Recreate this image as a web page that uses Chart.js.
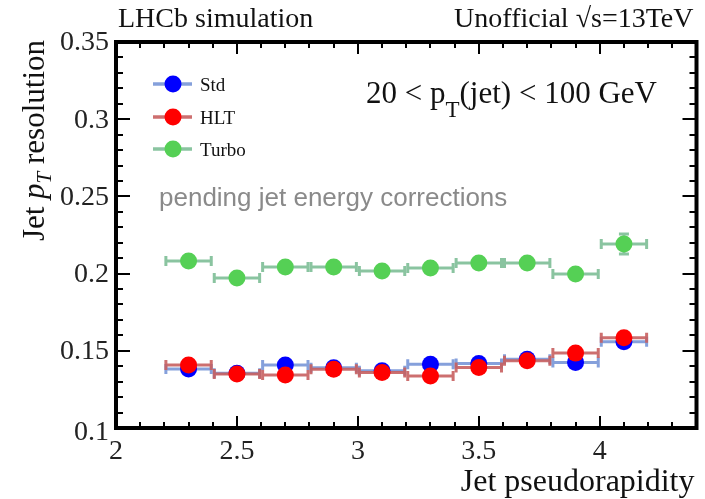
<!DOCTYPE html>
<html>
<head>
<meta charset="utf-8">
<script src="https://cdn.jsdelivr.net/npm/chart.js@4/dist/chart.umd.min.js"></script>
<style>
  html, body { margin: 0; padding: 0; background: #fff; }
  #wrap { width: 705px; height: 499px; }
</style>
</head>
<body>
<div id="wrap"><canvas id="resChart" width="705" height="499"></canvas></div>
<script>
// bin centres in jet pseudorapidity, each bin is 0.2 wide
const etaBins = [2.3, 2.5, 2.7, 2.9, 3.1, 3.3, 3.5, 3.7, 3.9, 4.1];
const etaHalfWidth = 0.1;

// pT resolution per bin
const stdRes   = [0.1382, 0.1355, 0.1408, 0.1390, 0.1370, 0.1413, 0.1418, 0.1445, 0.1425, 0.1558];
const hltRes   = [0.1408, 0.1350, 0.1343, 0.1380, 0.1360, 0.1337, 0.1392, 0.1435, 0.1485, 0.1585];
const turboRes = [0.2082, 0.1972, 0.2043, 0.2043, 0.2017, 0.2036, 0.2069, 0.2069, 0.1997, 0.2192];

// vertical (statistical) errors
const stdErr   = [0.002, 0.002, 0.002, 0.002, 0.002, 0.002, 0.002, 0.002, 0.002, 0.004];
const hltErr   = [0.002, 0.002, 0.002, 0.002, 0.002, 0.002, 0.002, 0.002, 0.002, 0.003];
const turboErr = [0.002, 0.002, 0.002, 0.002, 0.002, 0.002, 0.002, 0.002, 0.002, 0.0075];

const xTicks = [2, 2.5, 3, 3.5, 4];
const yTicks = [0.1, 0.15, 0.2, 0.25, 0.3, 0.35];
const xRange = [2, 4.4];
const yRange = [0.1, 0.35];

const seriesNames = ['Std', 'HLT', 'Turbo'];

const SERIF = '"Liberation Serif", "Times New Roman", serif';
const SANS = '"Liberation Sans", Arial, sans-serif';

function points(vals) {
  return etaBins.map((x, i) => ({ x: x, y: vals[i] }));
}

// draws a run of text pieces (for subscripts / italics) starting at x
function drawRich(ctx, parts, x, y) {
  ctx.textAlign = 'left';
  parts.forEach(p => {
    ctx.font = p.f;
    ctx.fillText(p.t, x, y + p.dy);
    x += ctx.measureText(p.t).width;
  });
}
function richWidth(ctx, parts) {
  let w = 0;
  parts.forEach(p => { ctx.font = p.f; w += ctx.measureText(p.t).width; });
  return w;
}

// horizontal bin-width bars and vertical errors, drawn under each dataset's markers
const errorBars = {
  id: 'errorBars',
  beforeDatasetDraw(chart, args) {
    const ds = chart.data.datasets[args.index];
    const xs = chart.scales.x, ys = chart.scales.y;
    const ctx = chart.ctx;
    ctx.save();
    ctx.strokeStyle = ds.barColor;
    ctx.lineWidth = 3;
    ctx.lineCap = 'butt';
    ds.data.forEach((p, i) => {
      const x0 = xs.getPixelForValue(p.x - etaHalfWidth);
      const x1 = xs.getPixelForValue(p.x + etaHalfWidth);
      const yc = ys.getPixelForValue(p.y);
      const xc = xs.getPixelForValue(p.x);
      ctx.beginPath();
      ctx.moveTo(x0, yc); ctx.lineTo(x1, yc);
      ctx.moveTo(x0 + 1.5, yc - 5); ctx.lineTo(x0 + 1.5, yc + 5);
      ctx.moveTo(x1 - 1.5, yc - 5); ctx.lineTo(x1 - 1.5, yc + 5);
      const e = ds.yErr[i];
      const yt = ys.getPixelForValue(p.y + e);
      const yb = ys.getPixelForValue(p.y - e);
      ctx.moveTo(xc, yt); ctx.lineTo(xc, yb);
      if (yc - yt > 9) {
        ctx.moveTo(xc - 5, yt + 1.5); ctx.lineTo(xc + 5, yt + 1.5);
        ctx.moveTo(xc - 5, yb - 1.5); ctx.lineTo(xc + 5, yb - 1.5);
      }
      ctx.stroke();
    });
    ctx.restore();
  }
};

// frame with inward ticks on all four sides, plus tick labels
const frameTicks = {
  id: 'frameTicks',
  afterDatasetsDraw(chart) {
    const ctx = chart.ctx;
    const a = chart.chartArea;
    const xs = chart.scales.x, ys = chart.scales.y;
    ctx.save();
    ctx.strokeStyle = '#000';
    ctx.lineWidth = 2;
    ctx.beginPath();
    for (let k = 0; k <= 24; k++) {
      const v = xRange[0] + k * 0.1;
      const px = Math.round(xs.getPixelForValue(v));
      const len = (k % 5 === 0) ? 12 : 6;
      ctx.moveTo(px, a.bottom); ctx.lineTo(px, a.bottom - len);
      ctx.moveTo(px, a.top); ctx.lineTo(px, a.top + len);
    }
    for (let k = 0; k <= 25; k++) {
      const v = yRange[0] + k * 0.01;
      const py = Math.round(ys.getPixelForValue(v));
      const len = (k % 5 === 0) ? 14 : 7;
      ctx.moveTo(a.left, py); ctx.lineTo(a.left + len, py);
      ctx.moveTo(a.right, py); ctx.lineTo(a.right - len, py);
    }
    ctx.stroke();
    ctx.lineWidth = 4;
    ctx.strokeRect(a.left, a.top, a.right - a.left, a.bottom - a.top);

    ctx.fillStyle = '#222';
    ctx.font = '28px ' + SERIF;
    ctx.textAlign = 'right';
    ctx.textBaseline = 'middle';
    yTicks.forEach(v => {
      // the lowest label sits a little below the corner
      const nudge = (v === yRange[0]) ? 5 : 1;
      ctx.fillText(String(v), a.left - 7, ys.getPixelForValue(v) + nudge);
    });
    ctx.textAlign = 'center';
    ctx.textBaseline = 'alphabetic';
    xTicks.forEach(v => {
      ctx.fillText(String(v), xs.getPixelForValue(v), a.bottom + 31);
    });
    ctx.restore();
  }
};

// titles, axis labels, legend and annotations
const annotations = {
  id: 'annotations',
  afterDraw(chart) {
    const ctx = chart.ctx;
    const a = chart.chartArea;
    ctx.save();
    ctx.fillStyle = '#111';
    ctx.textBaseline = 'alphabetic';

    ctx.font = '28px ' + SERIF;
    ctx.textAlign = 'left';
    ctx.fillText('LHCb simulation', a.left + 2, 27);
    ctx.textAlign = 'right';
    ctx.fillText('Unofficial \u221As=13TeV', a.right - 3, 27);

    // x-axis title
    ctx.font = '32px ' + SERIF;
    ctx.textAlign = 'right';
    ctx.fillText('Jet pseudorapidity', a.right - 2, 491);

    // y-axis title, rotated, right-aligned at the top of the axis
    const ytitle = [
      { t: 'Jet ', f: '31px ' + SERIF, dy: 0 },
      { t: 'p', f: 'italic 31px ' + SERIF, dy: 0 },
      { t: 'T', f: 'italic 21px ' + SERIF, dy: 7 },
      { t: ' resolution', f: '31px ' + SERIF, dy: 0 }
    ];
    ctx.save();
    ctx.translate(44, a.top - 2);
    ctx.rotate(-Math.PI / 2);
    drawRich(ctx, ytitle, -richWidth(ctx, ytitle), 0);
    ctx.restore();

    // kinematic range label
    drawRich(ctx, [
      { t: '20 < p', f: '31px ' + SERIF, dy: 0 },
      { t: 'T', f: '23px ' + SERIF, dy: 14 },
      { t: '(jet) < 100 GeV', f: '31px ' + SERIF, dy: 0 }
    ], 366, 103);

    ctx.font = '26px ' + SANS;
    ctx.fillStyle = '#8a8a8a';
    ctx.textAlign = 'left';
    ctx.fillText('pending jet energy corrections', 159, 206);

    // legend
    const rowsY = [84, 117, 149];
    chart.data.datasets.forEach((ds, i) => {
      const y = rowsY[i];
      ctx.strokeStyle = ds.barColor;
      ctx.lineWidth = 3.5;
      ctx.beginPath();
      ctx.moveTo(153, y); ctx.lineTo(192, y);
      ctx.stroke();
      ctx.fillStyle = ds.backgroundColor;
      ctx.beginPath();
      ctx.arc(173, y, 8.5, 0, Math.PI * 2);
      ctx.fill();
      ctx.fillStyle = '#111';
      ctx.font = '19px ' + SERIF;
      ctx.textAlign = 'left';
      ctx.fillText(seriesNames[i], 200, y + 7);
    });
    ctx.restore();
  }
};

const ctx = document.getElementById('resChart').getContext('2d');
new Chart(ctx, {
  type: 'scatter',
  data: {
    datasets: [
      { label: seriesNames[0], data: points(stdRes), yErr: stdErr, order: 3,
        backgroundColor: '#0000ff', barColor: 'rgba(120,150,215,0.9)' },
      { label: seriesNames[1], data: points(hltRes), yErr: hltErr, order: 2,
        backgroundColor: '#ff0000', barColor: 'rgba(200,95,95,0.9)' },
      { label: seriesNames[2], data: points(turboRes), yErr: turboErr, order: 1,
        backgroundColor: '#55d055', barColor: 'rgba(125,190,150,0.9)' }
    ]
  },
  options: {
    responsive: false,
    animation: false,
    layout: { padding: { top: 42, right: 5, left: 0, bottom: 0 } },
    elements: { point: { radius: 8.5, hoverRadius: 8.5, borderWidth: 0 } },
    plugins: { legend: { display: false }, tooltip: { enabled: false } },
    scales: {
      x: {
        type: 'linear', min: xRange[0], max: xRange[1],
        afterBuildTicks: s => { s.ticks = xTicks.map(v => ({ value: v })); },
        afterFit: s => { s.height = 71; },
        grid: { display: false },
        border: { display: false },
        ticks: { display: false }
      },
      y: {
        type: 'linear', min: yRange[0], max: yRange[1],
        afterBuildTicks: s => { s.ticks = yTicks.map(v => ({ value: v })); },
        afterFit: s => { s.width = 116; },
        grid: { display: false },
        border: { display: false },
        ticks: { display: false }
      }
    }
  },
  plugins: [errorBars, frameTicks, annotations]
});
</script>
</body>
</html>
